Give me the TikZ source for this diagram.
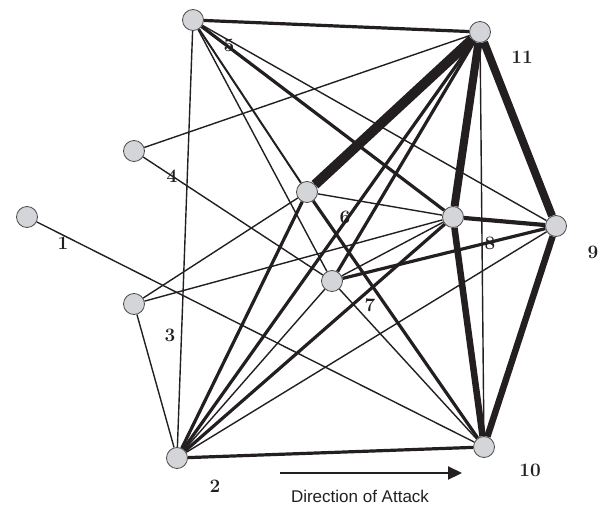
\documentclass[tikz,border=0pt]{standalone}
\usepackage{fontspec}
\usepackage{tikz}
\usetikzlibrary{arrows.meta}
\newfontfamily\captionfont{Liberation Sans}
\definecolor{inkblack}{HTML}{231F20}
\definecolor{nodegray}{HTML}{D4D5D8}
\pgfdeclarelayer{labels}
\pgfdeclarelayer{links}
\pgfsetlayers{labels,links,main}

\begin{document}
\begin{tikzpicture}[x=1pt, y=-1pt,
    station/.style={circle, draw=black!70, line width=0.8pt, fill=nodegray, minimum size=21pt, inner sep=0pt},
    num/.style={font=\fontsize{19}{21}\selectfont\bfseries, text=inkblack},
    link/.style={draw=inkblack, line width=1.4pt},
    mid/.style={draw=inkblack, line width=3.2pt},
    bold/.style={draw=inkblack, line width=4.2pt},
    heavy/.style={draw=inkblack, line width=6.5pt},
    heaviest/.style={draw=inkblack, line width=10pt}]
    \useasboundingbox (0,0) rectangle (602,508);

    % Nodes
    \node [station] (n1) at (27,217) {};
    \node [station] (n2) at (177,458) {};
    \node [station] (n3) at (134,304) {};
    \node [station] (n4) at (134,151) {};
    \node [station] (n5) at (193,20) {};
    \node [station] (n6) at (307,192) {};
    \node [station] (n7) at (332,281) {};
    \node [station] (n8) at (453,217) {};
    \node [station] (n9) at (556,226) {};
    \node [station] (n10) at (484,447) {};
    \node [station] (n11) at (480,32) {};

    % Labels (the links run over them)
    \begin{pgfonlayer}{labels}
    \node [num] (l1) at (63,243) {1};
    \node [num] (l2) at (215,486) {2};
    \node [num] (l3) at (170,335) {3};
    \node [num] (l4) at (172,176) {4};
    \node [num] (l5) at (229,45) {5};
    \node [num] (l6) at (345,217) {6};
    \node [num] (l7) at (370,305) {7};
    \node [num] (l8) at (490,243) {8};
    \node [num] (l9) at (593,252) {9};
    \node [num] (l10) at (530,470) {10};
    \node [num] (l11) at (522,57) {11};
    \end{pgfonlayer}

    % Links
    \begin{pgfonlayer}{links}
    \draw [link] (n1) -- (n10);
    \draw [link] (n2) -- (n3);
    \draw [link] (n2) -- (n5);
    \draw [link] (n2) -- (n7);
    \draw [link] (n2) -- (n9);
    \draw [link] (n3) -- (n6);
    \draw [link] (n3) -- (n8);
    \draw [link] (n4) -- (n11);
    \draw [link] (n4) -- (n7);
    \draw [link] (n5) -- (n9);
    \draw [link, line width=2pt] (n5) -- (n6);
    \draw [link] (n5) -- (n7);
    \draw [link] (n6) -- (n8);
    \draw [link] (n7) -- (n8);
    \draw [link] (n7) -- (n10);
    \draw [link] (n10) -- (n11);
    \draw [mid] (n5) -- (n11);
    \draw [mid] (n2) -- (n10);
    \draw [mid] (n7) -- (n9);
    \draw [mid] (n6) -- (n10);
    \draw [mid] (n5) -- (n8);
    \draw [mid] (n2) -- (n6);
    \draw [mid] (n2) -- (n11);
    \draw [mid] (n2) -- (n8);
    \draw [mid] (n7) -- (n11);
    \draw [bold] (n8) -- (n9);
    \draw [heavy, line width=8pt] (n8) -- (n11);
    \draw [heavy, line width=8pt] (n9) -- (n11);
    \draw [heavy] (n8) -- (n10);
    \draw [heavy] (n9) -- (n10);
    \draw [heaviest] (n6) -- (n11);
    \end{pgfonlayer}

    % Direction
    \coordinate (dstart) at (280,473);
    \coordinate (dend) at (462,473);
    \draw [-{Triangle[length=14pt, width=13pt]}, line width=2.2pt, inkblack] (dstart) -- (dend);
    \node [font=\captionfont\fontsize{17}{19}\selectfont, text=inkblack] (dir) at (360,496) {Direction of Attack};
\end{tikzpicture}
\end{document}
